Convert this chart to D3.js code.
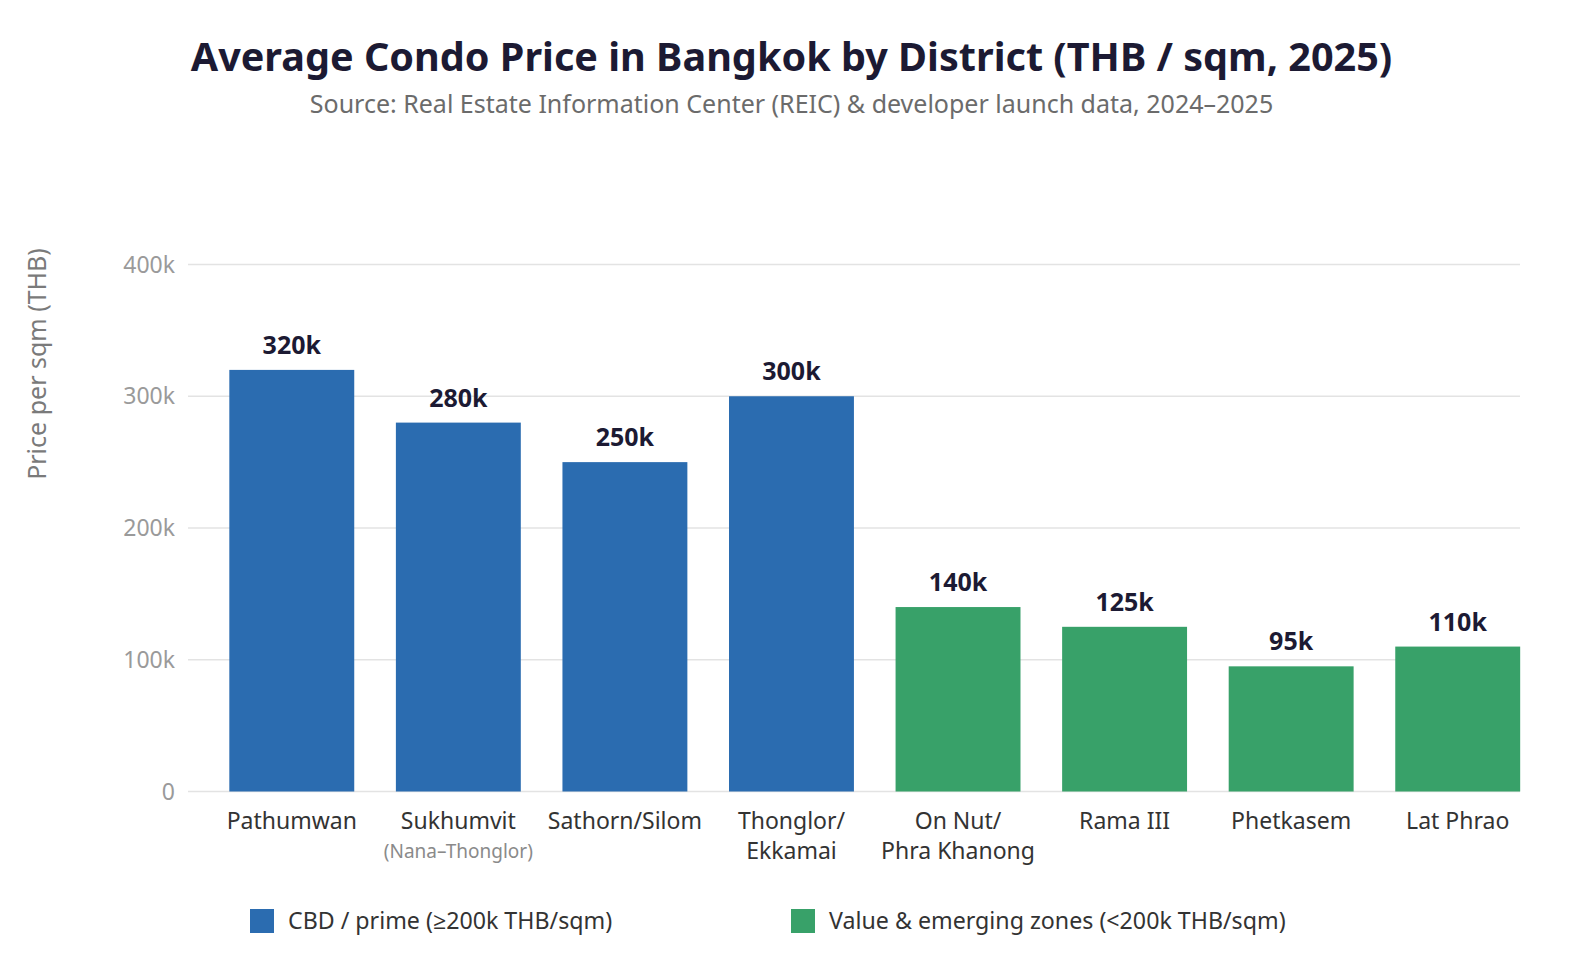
<!DOCTYPE html>
<html lang="en">
<head>
  <meta charset="UTF-8">
  <title>Average Condo Price in Bangkok</title>
  <script src="https://d3js.org/d3.v7.min.js"></script>
  <style>
    body { margin: 0; background: #fff; }
    svg { display: block; font-family: "Noto Sans", "Open Sans", sans-serif; }
  </style>
</head>
<body>
  <svg></svg>
  <script>
    // data
    const districts = ["Pathumwan", "Sukhumvit", "Sathorn/Silom", "Thonglor/Ekkamai", "On Nut/Phra Khanong", "Rama III", "Phetkasem", "Lat Phrao"];
    const labelLines = [["Pathumwan"], ["Sukhumvit"], ["Sathorn/Silom"], ["Thonglor/", "Ekkamai"], ["On Nut/", "Phra Khanong"], ["Rama III"], ["Phetkasem"], ["Lat Phrao"]];
    const subLabels = ["", "(Nana–Thonglor)", "", "", "", "", "", ""];
    const prices = [320000, 280000, 250000, 300000, 140000, 125000, 95000, 110000];
    const groups = ["cbd", "cbd", "cbd", "cbd", "value", "value", "value", "value"];
    const groupNames = ["CBD / prime (≥200k THB/sqm)", "Value & emerging zones (<200k THB/sqm)"];
    const yTicks = [0, 100000, 200000, 300000, 400000];

    const width = 1583, height = 958;
    const colors = { cbd: "#2b6cb0", value: "#38a169" };

    const svg = d3.select("svg").attr("width", width).attr("height", height);

    const x = d3.scaleBand()
      .domain(districts)
      .range([208.5, 1541])
      .paddingInner(0.25)
      .paddingOuter(0.125);

    const y = d3.scaleLinear()
      .domain([0, 400000])
      .range([791.5, 264.5]);

    const gridLeft = 188, gridRight = 1520;

    // title
    svg.append("text")
      .attr("x", 791.5).attr("y", 71)
      .attr("text-anchor", "middle")
      .attr("font-size", 39.6).attr("font-weight", 700)
      .attr("fill", "#1c1a33")
      .text("Average Condo Price in Bangkok by District (THB / sqm, 2025)");

    svg.append("text")
      .attr("x", 791.5).attr("y", 113)
      .attr("text-anchor", "middle")
      .attr("font-size", 25)
      .attr("fill", "#6b6b6b")
      .text("Source: Real Estate Information Center (REIC) & developer launch data, 2024–2025");

    // grid
    svg.append("g")
      .selectAll("line")
      .data(yTicks)
      .join("line")
      .attr("x1", gridLeft).attr("x2", gridRight)
      .attr("y1", d => y(d)).attr("y2", d => y(d))
      .attr("stroke", "#e3e3e3").attr("stroke-width", 1.5);

    svg.append("g")
      .selectAll("text")
      .data(yTicks)
      .join("text")
      .attr("x", 175).attr("y", d => y(d))
      .attr("dy", "0.35em")
      .attr("text-anchor", "end")
      .attr("font-size", 23)
      .attr("fill", "#9a9a9a")
      .text(d => d === 0 ? "0" : (d / 1000) + "k");

    svg.append("text")
      .attr("transform", "translate(46,364) rotate(-90)")
      .attr("text-anchor", "middle")
      .attr("font-size", 25)
      .attr("fill", "#7a7a7a")
      .text("Price per sqm (THB)");

    // bars
    svg.append("g")
      .selectAll("rect")
      .data(districts)
      .join("rect")
      .attr("x", d => x(d))
      .attr("width", x.bandwidth())
      .attr("y", (d, i) => y(prices[i]))
      .attr("height", (d, i) => y(0) - y(prices[i]))
      .attr("fill", (d, i) => colors[groups[i]]);

    // value labels
    svg.append("g")
      .selectAll("text")
      .data(districts)
      .join("text")
      .attr("x", d => x(d) + x.bandwidth() / 2)
      .attr("y", (d, i) => y(prices[i]) - 16)
      .attr("text-anchor", "middle")
      .attr("font-size", 25).attr("font-weight", 700)
      .attr("fill", "#1c1a33")
      .text((d, i) => (prices[i] / 1000) + "k");

    // category labels
    const cat = svg.append("g")
      .selectAll("g")
      .data(districts)
      .join("g")
      .attr("transform", d => `translate(${x(d) + x.bandwidth() / 2},0)`);

    cat.each(function(d, i) {
      const g = d3.select(this);
      labelLines[i].forEach((line, k) => {
        g.append("text")
          .attr("y", 829 + k * 30)
          .attr("text-anchor", "middle")
          .attr("font-size", 23)
          .attr("fill", "#333")
          .text(line);
      });
      if (subLabels[i]) {
        g.append("text")
          .attr("y", 858)
          .attr("text-anchor", "middle")
          .attr("font-size", 19)
          .attr("fill", "#8a8a8a")
          .text(subLabels[i]);
      }
    });

    // legend
    const legendX = [250, 791];
    const legend = svg.append("g")
      .selectAll("g")
      .data(groupNames)
      .join("g")
      .attr("transform", (d, i) => `translate(${legendX[i]},909)`);

    legend.append("rect")
      .attr("width", 24).attr("height", 24)
      .attr("fill", (d, i) => colors[["cbd", "value"][i]]);

    legend.append("text")
      .attr("x", 38).attr("y", 12)
      .attr("dy", "0.35em")
      .attr("font-size", 23.2)
      .attr("fill", "#333")
      .text(d => d);
  </script>
</body>
</html>
